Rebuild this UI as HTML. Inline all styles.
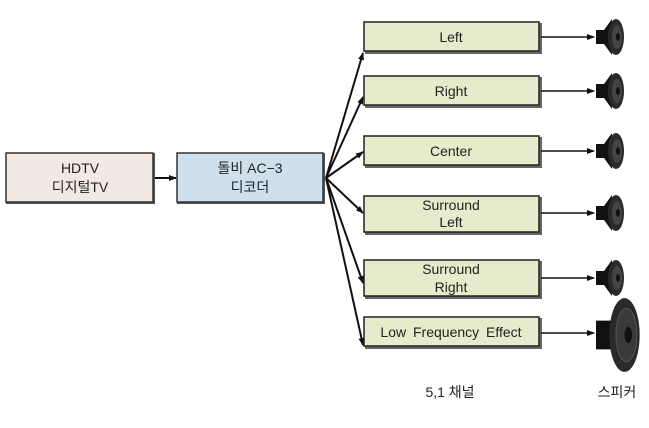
<!DOCTYPE html>
<html><head><meta charset="utf-8"><style>
body{margin:0;background:#fff;width:649px;height:423px;overflow:hidden}
svg text{font-family:"Liberation Sans","Noto Sans CJK KR",sans-serif;font-size:14px;fill:#222}
</style></head><body>
<svg width="649" height="423" viewBox="0 0 649 423" xmlns="http://www.w3.org/2000/svg">
<defs>
<marker id="a" markerWidth="8" markerHeight="6" refX="7" refY="3" orient="auto" markerUnits="userSpaceOnUse"><path d="M0,0L8,3L0,6z" fill="#111"/></marker>
<g id="spk"><path d="M0,-7L8,-7L16,-18L16,18L8,7L0,7z" fill="#111"/><ellipse cx="20" cy="0" rx="8" ry="18" fill="#2a2a2a"/><ellipse cx="21" cy="0" rx="5" ry="12" fill="#444"/><ellipse cx="22" cy="0" rx="2" ry="4" fill="#111"/></g>
</defs>
<!-- HDTV -->
<rect x="6" y="153" width="149" height="51" fill="#555"/>
<rect x="6" y="153" width="147" height="49" fill="#f1e9e2" stroke="#333" stroke-width="1.5"/>
<text x="80" y="173" text-anchor="middle">HDTV</text>
<text x="80" y="192" text-anchor="middle">디지털TV</text>
<line x1="155" y1="178" x2="176" y2="178" stroke="#111" stroke-width="2" marker-end="url(#a)"/>
<rect x="177" y="153" width="148" height="51" fill="#555"/>
<rect x="177" y="153" width="146" height="49" fill="#cfe0ec" stroke="#333" stroke-width="1.5"/>
<text x="250" y="173" text-anchor="middle">돌비 AC−3</text>
<text x="250" y="192" text-anchor="middle">디코더</text>
<!-- fan -->
<g stroke="#111" stroke-width="2" fill="none">
<line x1="326" y1="178" x2="363" y2="53" marker-end="url(#a)"/>
<line x1="326" y1="178" x2="363" y2="97" marker-end="url(#a)"/>
<line x1="326" y1="178" x2="363" y2="152" marker-end="url(#a)"/>
<line x1="326" y1="178" x2="363" y2="213" marker-end="url(#a)"/>
<line x1="326" y1="178" x2="363" y2="283" marker-end="url(#a)"/>
<line x1="326" y1="178" x2="363" y2="345" marker-end="url(#a)"/>
</g>
<!-- channel boxes -->
<g>
<rect x="365" y="23" width="177" height="31" fill="#666"/><rect x="364" y="22" width="175" height="29" fill="#e6ebcb" stroke="#222" stroke-width="1.5"/>
<text x="451" y="42" text-anchor="middle">Left</text>
<rect x="365" y="77" width="177" height="31" fill="#666"/><rect x="364" y="76" width="175" height="29" fill="#e6ebcb" stroke="#222" stroke-width="1.5"/>
<text x="451" y="96" text-anchor="middle">Right</text>
<rect x="365" y="137" width="177" height="31" fill="#666"/><rect x="364" y="136" width="175" height="29" fill="#e6ebcb" stroke="#222" stroke-width="1.5"/>
<text x="451" y="156" text-anchor="middle">Center</text>
<rect x="365" y="197" width="177" height="38" fill="#666"/><rect x="364" y="196" width="175" height="36" fill="#e6ebcb" stroke="#222" stroke-width="1.5"/>
<text x="451" y="210" text-anchor="middle">Surround</text><text x="451" y="227" text-anchor="middle">Left</text>
<rect x="365" y="261" width="177" height="38" fill="#666"/><rect x="364" y="260" width="175" height="36" fill="#e6ebcb" stroke="#222" stroke-width="1.5"/>
<text x="451" y="274" text-anchor="middle">Surround</text><text x="451" y="292" text-anchor="middle">Right</text>
<rect x="365" y="318" width="177" height="31" fill="#666"/><rect x="364" y="317" width="175" height="29" fill="#e6ebcb" stroke="#222" stroke-width="1.5"/>
<text x="451" y="337" text-anchor="middle" style="word-spacing:3px">Low Frequency Effect</text>
</g>
<!-- arrows to speakers -->
<g stroke="#111" stroke-width="1.5">
<line x1="541" y1="37" x2="594" y2="37" marker-end="url(#a)"/>
<line x1="541" y1="91" x2="594" y2="91" marker-end="url(#a)"/>
<line x1="541" y1="151" x2="594" y2="151" marker-end="url(#a)"/>
<line x1="541" y1="213" x2="594" y2="213" marker-end="url(#a)"/>
<line x1="541" y1="278" x2="594" y2="278" marker-end="url(#a)"/>
<line x1="541" y1="333" x2="594" y2="333" marker-end="url(#a)"/>
</g>
<use href="#spk" x="596" y="37"/>
<use href="#spk" x="596" y="91"/>
<use href="#spk" x="596" y="151"/>
<use href="#spk" x="596" y="213"/>
<use href="#spk" x="596" y="278"/>
<g transform="translate(596,335) scale(1.9,2.05)"><path d="M0,-7L8,-7L14,-18L14,18L8,7L0,7z" fill="#111"/><ellipse cx="15" cy="0" rx="8" ry="18" fill="#2a2a2a"/><ellipse cx="16" cy="0" rx="5.5" ry="13" fill="#3a3a3a" stroke="#555" stroke-width="0.5"/><ellipse cx="17" cy="0" rx="2" ry="4" fill="#111"/></g>
<text x="450" y="397" text-anchor="middle" font-size="13">5,1 채널</text>
<text x="617" y="397" text-anchor="middle" font-size="13">스피커</text>
</svg>
</body></html>
